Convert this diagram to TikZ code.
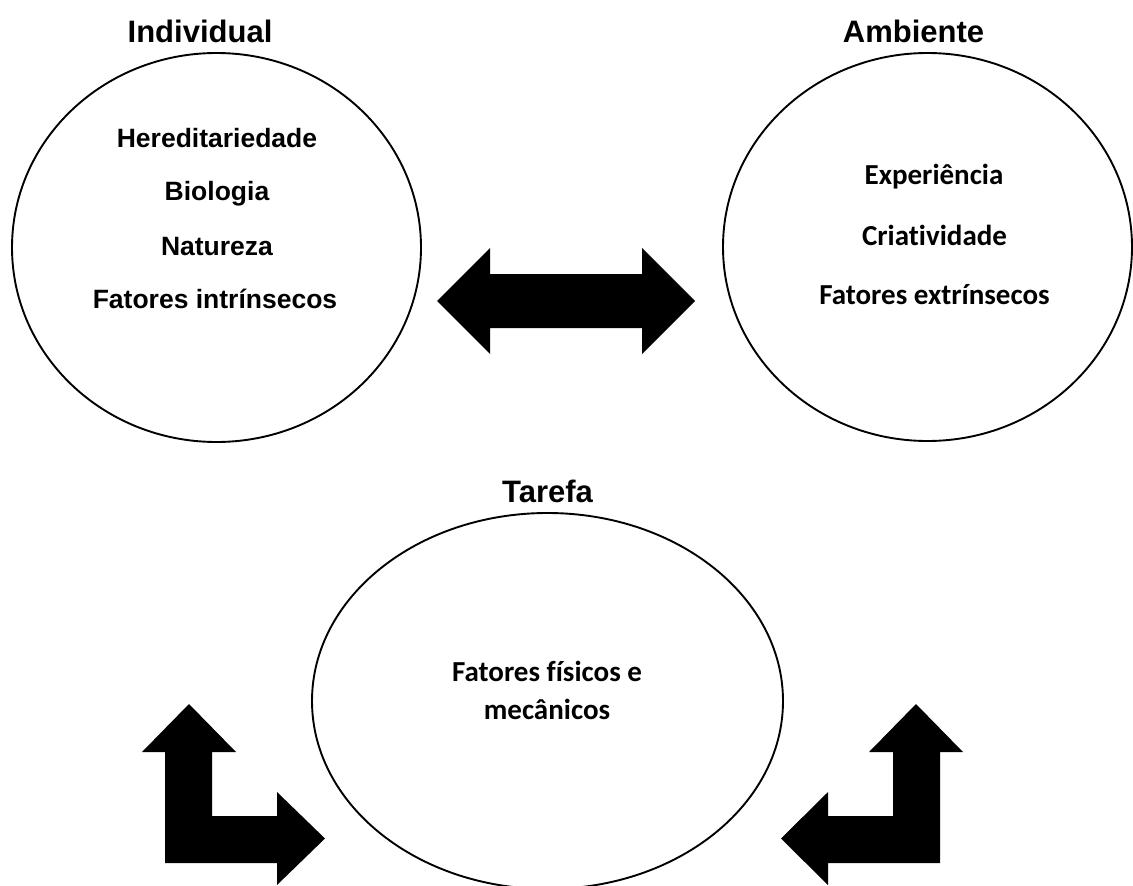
\documentclass[tikz,border=0pt]{standalone}
\usepackage{fontspec}
\setmainfont{Liberation Sans}
\newfontfamily\carlitofont[Ligatures=NoCommon]{Carlito}
\usetikzlibrary{shapes.geometric}
\begin{document}
\begin{tikzpicture}[x=1pt,y=-1pt,
  oval/.style={draw,ellipse,line width=1.9pt,inner sep=0pt},
  ttl/.style={anchor=base,inner sep=0pt,font=\fontsize{31pt}{35pt}\selectfont\bfseries},
  itemA/.style={anchor=base,inner sep=0pt,font=\fontsize{26.5pt}{30pt}\selectfont\bfseries},
  itemC/.style={anchor=base,inner sep=0pt,font=\fontsize{29pt}{33pt}\selectfont\carlitofont\bfseries},
  blockarrow/.style={fill=black,draw=none}]
\useasboundingbox (0,0) rectangle (1133,886);
\clip (0,0) rectangle (1133,886);

% ellipses
\node[oval,minimum width=409pt,minimum height=389pt] (ind) at (216.5,247.5) {};
\node[oval,minimum width=409pt,minimum height=388pt] (amb) at (927.5,247) {};
\node[oval,minimum width=471pt,minimum height=376pt] (tar) at (547.5,701) {};

% titles
\node[ttl] (tInd) at (200,42) {Individual};
\node[ttl] (tAmb) at (913.5,42) {Ambiente};
\node[ttl] (tTar) at (547.5,502) {Tarefa};

% Individual items
\node[itemA] (i1) at (217,147) {Hereditariedade};
\node[itemA] (i2) at (217,200) {Biologia};
\node[itemA] (i3) at (217,255) {Natureza};
\node[itemA] (i4) at (215,308) {Fatores intrínsecos};

% Ambiente items
\node[itemC] (a1) at (934,184) {Experiência};
\node[itemC] (a2) at (934.5,245) {Criatividade};
\node[itemC] (a3) at (934.5,304) {Fatores extrínsecos};

% Tarefa items
\node[itemC] (t1) at (547,681) {Fatores físicos e};
\node[itemC] (t2) at (547,719) {mecânicos};

% double arrow between Individual and Ambiente
\fill[blockarrow] (437,301) -- (490,248) -- (490,274) -- (642,274) -- (642,248)
  -- (695,301) -- (642,354) -- (642,328) -- (490,328) -- (490,354) -- cycle;

% left bent arrow
\fill[blockarrow] (189,704) -- (236,752) -- (212,752) -- (212,816) -- (277,816)
  -- (277,792) -- (325,838.5) -- (277,885) -- (277,863) -- (165,863)
  -- (165,752) -- (142,752) -- cycle;

% right bent arrow
\fill[blockarrow] (916,704) -- (963,752) -- (940,752) -- (940,863) -- (828,863)
  -- (828,885) -- (781,838.5) -- (828,792) -- (828,816) -- (893,816)
  -- (893,752) -- (869,752) -- cycle;
\end{tikzpicture}
\end{document}
